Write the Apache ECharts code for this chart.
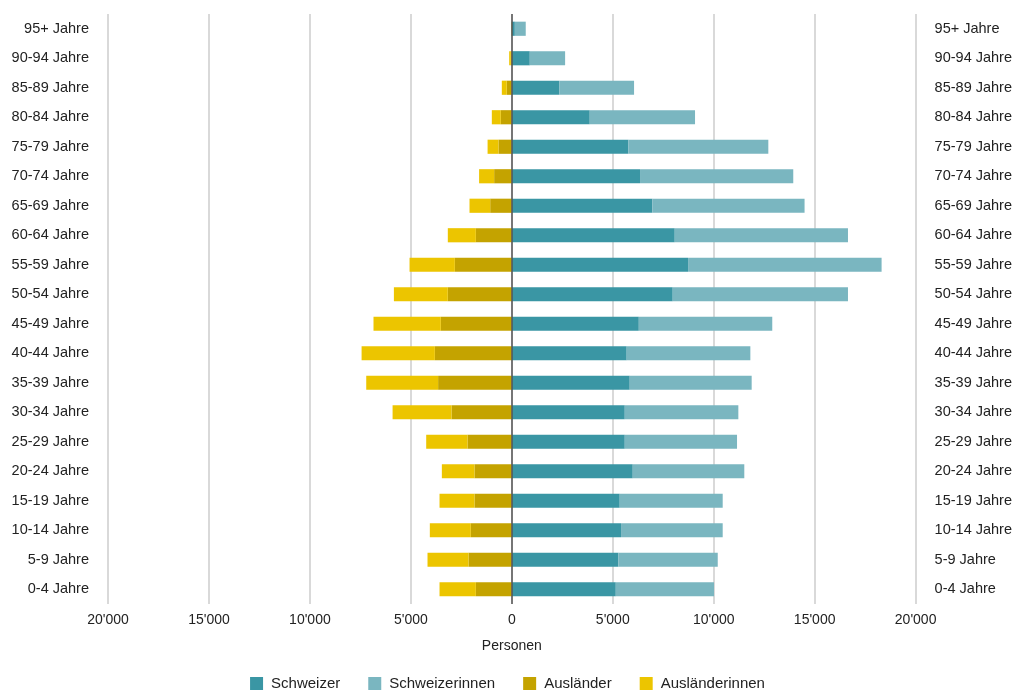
<!DOCTYPE html>
<html>
<head>
<meta charset="utf-8">
<script src="https://cdn.jsdelivr.net/npm/echarts@6/dist/echarts.min.js"></script>
<style>
  html, body { margin: 0; padding: 0; background: #ffffff; }
  #chart { width: 1015px; height: 691px; }
</style>
</head>
<body>
<div id="chart"></div>
<script>
// Age groups, bottom to top
const ageGroups = ['0-4 Jahre', '5-9 Jahre', '10-14 Jahre', '15-19 Jahre', '20-24 Jahre',
  '25-29 Jahre', '30-34 Jahre', '35-39 Jahre', '40-44 Jahre', '45-49 Jahre',
  '50-54 Jahre', '55-59 Jahre', '60-64 Jahre', '65-69 Jahre', '70-74 Jahre',
  '75-79 Jahre', '80-84 Jahre', '85-89 Jahre', '90-94 Jahre', '95+ Jahre'];

// Persons per group (Swiss citizens to the right)
const schweizer = [5150, 5280, 5410, 5345, 5990, 5595, 5595, 5840, 5690, 6290,
  7970, 8730, 8070, 6960, 6350, 5775, 3860, 2360, 890, 150];
const schweizerinnen = [4865, 4920, 5035, 5100, 5525, 5560, 5625, 6040, 6125, 6610,
  8680, 9585, 8580, 7540, 7590, 6930, 5215, 3695, 1750, 540];

// Foreign residents (drawn to the left)
const auslaender = [1780, 2145, 2030, 1850, 1850, 2195, 2985, 3650, 3810, 3515,
  3170, 2820, 1780, 1070, 875, 660, 545, 250, 50, 10];
const auslaenderinnen = [1800, 2030, 2030, 1730, 1615, 2045, 2920, 3560, 3630, 3335,
  2670, 2245, 1390, 1025, 745, 540, 445, 245, 80, 10];

const axisMin = -20000, axisMax = 20000, axisStep = 5000;

// Absolute value with a thousands apostrophe, e.g. 15'000
const fmt = v => {
  const a = Math.abs(v);
  return a >= 1000 ? Math.floor(a / 1000) + "'" + String(a % 1000).padStart(3, '0') : String(a);
};

const neg = arr => arr.map(v => -v);

const chart = echarts.init(document.getElementById('chart'), null, { renderer: 'canvas' });

const labelFont = { fontFamily: 'Liberation Sans, Arial, sans-serif', color: '#222' };

chart.setOption({
  animation: false,
  backgroundColor: '#ffffff',
  grid: { left: 108, right: 99, top: 14, bottom: 87, containLabel: false },
  xAxis: {
    type: 'value',
    min: axisMin, max: axisMax, interval: axisStep,
    name: 'Personen', nameLocation: 'middle', nameGap: 35,
    nameTextStyle: Object.assign({ fontSize: 14 }, labelFont),
    axisLine: { show: false },
    axisTick: { show: false },
    axisLabel: Object.assign({ fontSize: 14, margin: 9, formatter: fmt }, labelFont),
    splitLine: { show: true, lineStyle: { color: '#cccccc', width: 1.5 } }
  },
  yAxis: [
    {
      type: 'category', data: ageGroups, position: 'left',
      axisLine: { show: false, onZero: false }, axisTick: { show: false },
      axisLabel: Object.assign({ fontSize: 14.5, margin: 19 }, labelFont)
    },
    {
      type: 'category', data: ageGroups, position: 'right',
      axisLine: { show: false, onZero: false }, axisTick: { show: false },
      axisLabel: Object.assign({ fontSize: 14.5, margin: 19 }, labelFont)
    }
  ],
  legend: {
    bottom: 0, left: 'center', padding: 0,
    icon: 'rect', itemWidth: 13, itemHeight: 13, itemGap: 28,
    textStyle: Object.assign({ fontSize: 15, padding: [0, 0, 0, 3] }, labelFont),
    data: ['Schweizer', 'Schweizerinnen', 'Ausländer', 'Ausländerinnen']
  },
  series: [
    {
      name: 'Schweizer', type: 'bar', stack: 'pop', barWidth: '48%',
      data: schweizer, itemStyle: { color: '#3a96a4' },
      markLine: {
        silent: true, symbol: 'none', label: { show: false },
        lineStyle: { color: '#555555', width: 1.5, type: 'solid' },
        data: [{ xAxis: 0 }]
      },
      z: 3
    },
    {
      name: 'Schweizerinnen', type: 'bar', stack: 'pop', barWidth: '48%',
      data: schweizerinnen, itemStyle: { color: '#7ab6c0' }, z: 3
    },
    {
      name: 'Ausländer', type: 'bar', stack: 'pop', barWidth: '48%',
      data: neg(auslaender), itemStyle: { color: '#c4a300' }, z: 3
    },
    {
      name: 'Ausländerinnen', type: 'bar', stack: 'pop', barWidth: '48%',
      data: neg(auslaenderinnen), itemStyle: { color: '#ecc500' }, z: 3
    }
  ]
});
</script>
</body>
</html>
